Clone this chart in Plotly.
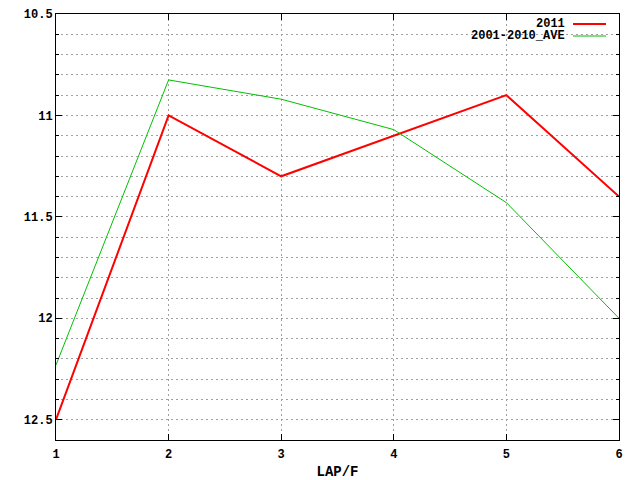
import plotly.graph_objects as go

laps = [1, 2, 3, 4, 5, 6]
series_names = ["2011", "2001-2010_AVE"]
s2011 = [12.5, 11.0, 11.3, 11.1, 10.9, 11.4]
s_ave = [12.23, 10.825, 10.92, 11.07, 11.43, 12.0]
colors = ["#ff0000", "#00c000"]
widths = [2, 1]

FONT = dict(family="Liberation Mono", size=12, color="black")

fig = go.Figure()
for name, ys, c, w in zip(series_names, [s2011, s_ave], colors, widths):
    fig.add_trace(go.Scatter(x=laps, y=ys, mode="lines", name=name,
                             line=dict(color=c, width=w), showlegend=False))

grid = dict(gridcolor="#a0a0a0", griddash="2px,3px", gridwidth=1)

fig.update_layout(
    width=640, height=480,
    margin=dict(l=56, r=21, t=14, b=40, autoexpand=False),
    paper_bgcolor="white", plot_bgcolor="white",
    font=FONT,
    xaxis=dict(range=[1, 6], dtick=1, tick0=1, showline=True, mirror="allticks",
               linecolor="black", linewidth=1, ticks="inside", ticklen=6,
               tickcolor="black", showgrid=True, zeroline=False, automargin=False,
               ticklabelstandoff=3,
               title=dict(text="<b>LAP/F</b>", standoff=8),
               tickprefix="<b>", ticksuffix="</b>", **grid),
    yaxis=dict(range=[12.6, 10.5], dtick=0.5, tick0=10.5, showline=True,
               mirror="allticks", linecolor="black", linewidth=1, automargin=False,
               ticks="inside", ticklen=6, tickcolor="black", zeroline=False,
               showgrid=True, tickprefix="<b>", ticksuffix="</b>",
               minor=dict(dtick=0.1, tick0=10.5, ticks="inside", ticklen=3,
                          tickcolor="black", showgrid=True, **grid),
               **grid),
)

# gnuplot-style key: text right-aligned, sample line to the right
key_y = [24, 36]
for name, c, w, yy in zip(series_names, colors, widths, key_y):
    fig.add_annotation(xref="paper", yref="paper", x=(566 - 56) / 563,
                       y=1 - (yy - 14) / 426, xanchor="right", yanchor="middle",
                       text="<b>" + name + "</b>", showarrow=False,
                       borderpad=0, font=FONT)
    fig.add_shape(type="line", xref="paper", yref="paper",
                  x0=(573 - 56) / 563, x1=(606 - 56) / 563,
                  y0=1 - (yy - 14) / 426, y1=1 - (yy - 14) / 426,
                  line=dict(color=c, width=w))

fig.write_html("out.html", config={"displayModeBar": False},
               post_script="document.body.style.margin='0';")
